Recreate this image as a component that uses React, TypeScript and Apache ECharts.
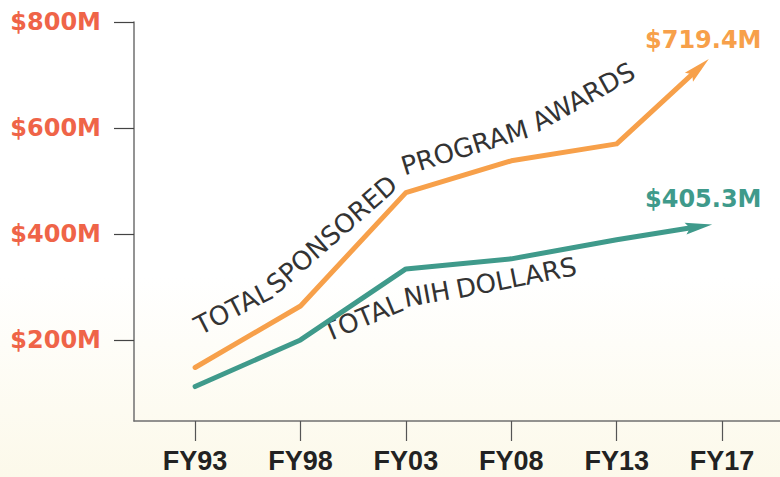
import React, { useEffect, useRef } from "react";
import * as echarts from "echarts";

const categories = ["FY93", "FY98", "FY03", "FY08", "FY13", "FY17"];
const categoryPositions = [0, 1, 2, 3, 4, 5];
const xPositions = [0, 1, 2, 3, 4, 4.78];
const sponsoredAwards = [148, 264, 478, 538, 570, 713];
const nihDollars = [112, 200, 334, 353, 389, 414];
const yTicks = [200, 400, 600, 800];
const sponsoredFinalLabel = "$719.4M";
const nihFinalLabel = "$405.3M";
const sponsoredWords = ["TOTAL", "SPONSORED", "PROGRAM", "AWARDS"];
const nihWords = ["TOTAL", "NIH", "DOLLARS"];

// layout: baseline start/end pixel positions of each word (curved annotation)
const sponsoredWordBaselines = [
  [[200, 336], [274, 298]],
  [[278, 294], [398, 189]],
  [[404, 176], [531, 137]],
  [[539, 132], [637, 78]],
];
const nihWordBaselines = [
  [[331, 341], [401, 312]],
  [[409, 307], [448, 300]],
  [[457, 299], [579, 275]],
];

const ORANGE = "#F7A04A";
const TEAL = "#3F9A8B";
const RED = "#EF6448";
const TEXT_SIZE = 26;

function wordElements(words: string[], baselines: number[][][]) {
  return words.map((w, i) => {
    const [[x1, y1], [x2, y2]] = baselines[i];
    const dx = x2 - x1;
    const dy = y2 - y1;
    const len = Math.hypot(dx, dy);
    const ux = dx / len;
    const uy = dy / len;
    const nx = uy;
    const ny = -ux;
    const off = 0.36 * TEXT_SIZE;
    return {
      type: "text",
      x: (x1 + x2) / 2 + nx * off,
      y: (y1 + y2) / 2 + ny * off,
      rotation: Math.atan2(-dy, dx),
      style: {
        text: w,
        fill: "#333333",
        fontFamily: "DejaVu Sans",
        fontWeight: "normal",
        fontSize: TEXT_SIZE,
        textAlign: "center",
        textVerticalAlign: "middle",
      },
    };
  });
}

const ARROW_PATH = "path://M9,0L18,27L9,22.5L0,27Z";

export default function App() {
  const ref = useRef<HTMLDivElement>(null);
  useEffect(() => {
    document.body.style.margin = "0";
    const chart = echarts.init(ref.current!, null, { renderer: "svg" });
    const toCoords = (vals: number[]) => vals.map((v, i) => [xPositions[i], v]);
    const lineSeries = (name: string, vals: number[], color: string) => ({
      name,
      type: "line",
      data: toCoords(vals),
      symbol: "none",
      lineStyle: { color, width: 5, join: "round", cap: "round" },
      z: 3,
    });
    const base: any = {
      animation: false,
      backgroundColor: new echarts.graphic.LinearGradient(0, 0, 0, 1, [
        { offset: 0, color: "#ffffff" },
        { offset: 0.58, color: "#ffffff" },
        { offset: 1, color: "#fcf9ea" },
      ]),
      grid: { left: 134, right: 0, top: 22, bottom: 56 },
      xAxis: {
        type: "value",
        min: -0.58,
        max: 5.55,
        splitLine: { show: false },
        axisLine: { show: true, onZero: false, lineStyle: { color: "#6f6f6f", width: 1.5 } },
        axisTick: {
          show: true,
          customValues: categoryPositions,
          length: 20,
          lineStyle: { color: "#555", width: 1.2 },
        },
        axisLabel: {
          customValues: categoryPositions,
          formatter: (v: number) => categories[Math.round(v)],
          margin: 26,
          color: "#222",
          fontFamily: "Liberation Sans",
          fontWeight: "bold",
          fontSize: 27,
        },
      },
      yAxis: {
        type: "value",
        min: 47,
        max: 800,
        splitLine: { show: false },
        axisLine: { show: true, onZero: false, lineStyle: { color: "#6f6f6f", width: 1.5 } },
        axisTick: {
          show: true,
          customValues: yTicks,
          length: 20,
          lineStyle: { color: "#444", width: 1.2 },
        },
        axisLabel: {
          customValues: yTicks,
          formatter: (v: number) => `$${v}M`,
          margin: 33,
          color: RED,
          fontFamily: "DejaVu Sans",
          fontWeight: "bold",
          fontSize: 24,
        },
      },
      series: [
        lineSeries("Total Sponsored Program Awards", sponsoredAwards, ORANGE),
        lineSeries("Total NIH Dollars", nihDollars, TEAL),
      ],
      graphic: [
        {
          type: "text",
          x: 645,
          y: 40,
          style: {
            text: sponsoredFinalLabel,
            fill: ORANGE,
            font: "bold 24px 'DejaVu Sans'",
            textVerticalAlign: "middle",
            textAlign: "left",
          },
        },
        {
          type: "text",
          x: 645,
          y: 199,
          style: {
            text: nihFinalLabel,
            fill: TEAL,
            font: "bold 24px 'DejaVu Sans'",
            textVerticalAlign: "middle",
            textAlign: "left",
          },
        },
        ...wordElements(sponsoredWords, sponsoredWordBaselines),
        ...wordElements(nihWords, nihWordBaselines),
      ],
    };
    chart.setOption(base);

    // arrow heads: rotate to follow the last segment in pixel space
    const arrow = (vals: number[], color: string) => {
      const n = vals.length;
      const a = chart.convertToPixel({ gridIndex: 0 }, [xPositions[n - 2], vals[n - 2]]) as number[];
      const b = chart.convertToPixel({ gridIndex: 0 }, [xPositions[n - 1], vals[n - 1]]) as number[];
      const ang = (Math.atan2(-(b[1] - a[1]), b[0] - a[0]) * 180) / Math.PI;
      return {
        type: "scatter",
        data: [[xPositions[n - 1], vals[n - 1]]],
        symbol: ARROW_PATH,
        symbolKeepAspect: true,
        symbolSize: [18, 27],
        symbolRotate: ang - 90,
        itemStyle: { color, opacity: 1 },
        z: 4,
        silent: true,
      };
    };
    chart.setOption({
      series: [
        base.series[0],
        base.series[1],
        arrow(sponsoredAwards, ORANGE),
        arrow(nihDollars, TEAL),
      ],
    });
    return () => chart.dispose();
  }, []);
  return <div ref={ref} style={{ width: 780, height: 477 }} />;
}
